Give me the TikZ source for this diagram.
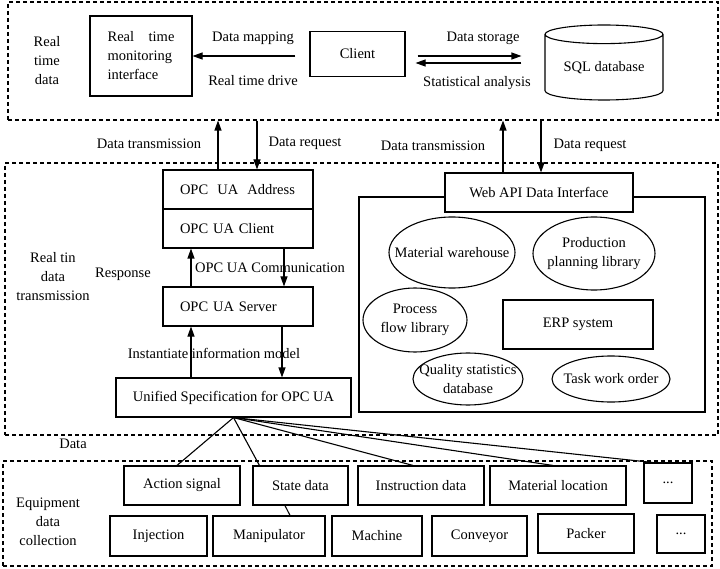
\documentclass[tikz,border=0pt]{standalone}
\usepackage{fontspec}
\setmainfont{Liberation Serif}
\usetikzlibrary{arrows.meta,positioning,shapes.geometric}

\begin{document}
\begin{tikzpicture}[x=1pt,y=-1pt,line width=1.1pt,
  every node/.style={font=\fontsize{14.5}{19}\selectfont,inner sep=0pt},
  lbl/.style={align=center},
  box/.style args={#1x#2}{draw,align=center,minimum width=#1,minimum height=#2},
  oval/.style args={#1x#2}{draw,ellipse,minimum width=#1,minimum height=#2},
  opc/.style={draw,minimum height=39,text width=116,inner xsep=17,align=left},
  region/.style={draw,dash pattern=on 4pt off 3pt},
  arr/.style={-{Triangle[length=10pt,width=7pt]}}]
\useasboundingbox (0,0) rectangle (720,569);

\node[region,minimum width=710,minimum height=118] (rtdata) at (363,61) {};
\node[region,minimum width=713,minimum height=272] (rttrans) at (361.5,299) {};
\node[region,minimum width=709,minimum height=105] (equip) at (357.5,513.5) {};

\node[lbl] at (47,61) {Real\\time\\data};
\node[draw,minimum width=102,minimum height=80,align=left] (mon) at (141,56) {Real\hspace{1em}time\\monitoring\\interface};
\node[box=95x45] (client) at (357.5,54) {Client};
\node[draw,cylinder,shape border rotate=90,aspect=0.23,minimum width=118,minimum height=75,anchor=shape center] (sql) at (604,62.5) {SQL database};

\coordinate (store) at ([yshift=-2pt]client.east);
\coordinate (stat) at ([yshift=-9pt]client.east);
\draw[arr] ([xshift=-14pt]client.west |- mon.east) -- (mon.east);
\draw[arr] ([xshift=12pt]store) -- ([xshift=-23pt]sql.west |- store);
\draw[arr] ([xshift=-23pt]sql.west |- stat) -- ([xshift=10pt]stat);
\node at (253,38) {Data mapping};
\node at (253,81) {Real time drive};
\node at (483,38) {Data storage};
\node at (477,83) {Statistical analysis};

\node at (149,144) {Data transmission};
\node at (305,143) {Data request};
\node at (433,146) {Data transmission};
\node at (590,145) {Data request};

\node[opc] (addr) at (238,189.5) {OPC\hspace{0.63em}UA\hspace{0.63em}Address};
\node[opc] (occl) at (238,228.5) {OPC UA Client};
\node[opc] (server) at (238,306.5) {OPC UA Server};
\node[box=235x39] (uni) at (233.5,397.5) {Unified Specification for OPC UA};

\node[lbl] at (53,277) {Real tin\\data\\transmission};
\node at (123,274) {Response};
\node at (270,268) {OPC UA Communication};
\node at (214,353) {Instantiate information model};

\draw[arr] ([xshift=-20pt]addr.north) -- ([xshift=-20pt]addr.north |- rtdata.south);
\draw[arr] ([xshift=19pt]addr.north |- rtdata.south) -- ([xshift=19pt]addr.north);
\draw[arr] ([xshift=-47pt]server.north) -- ([xshift=-47pt]occl.south);
\draw[arr] ([xshift=46pt]occl.south) -- ([xshift=46pt]server.north);
\draw[arr] ([xshift=-42.5pt]uni.north) -- ([xshift=-47pt]server.south);
\draw[arr] ([xshift=44pt]server.south) -- ([xshift=48.5pt]uni.north);

\node[draw,minimum width=346,minimum height=215] (apps) at (532,304.5) {};
\node[box=188x39,fill=white] (web) at (539,192.5) {Web API Data Interface};
\draw[arr] ([xshift=-36pt]web.north) -- ([xshift=-36pt]web.north |- rtdata.south);
\draw[arr] ([xshift=2pt]web.north |- rtdata.south) -- ([xshift=2pt]web.north);

\node[oval=126x71,label={center:Material warehouse}] (mw) at (452,252.5) {};
\node[oval=122x73,label={[align=center]center:Production\\planning library}] (ppl) at (594,253.5) {};
\node[oval=104x64,label={[align=center]center:Process\\flow library}] (pfl) at (415,320) {};
\node[box=150x49] (erp) at (578,324.5) {ERP system};
\node[oval=110x52,label={[align=center]center:Quality statistics\\database}] (qsd) at (468,379) {};
\node[oval=118x46,label={center:Task work order}] (two) at (611,379) {};

\node at (73,444) {Data};

\node[lbl] at (48,522) {Equipment\\data\\collection};
\node[box=116x39] (act) at (182,485.5) {Action signal};
\node[box=95x39] (state) at (300.5,485.5) {State data};
\node[box=126x39] (instr) at (421,485.5) {Instruction data};
\node[box=136x39] (mat) at (558,485.5) {Material location};
\node[box=48x40] (more1) at (668,483) {...};
\node[box=97x40] (inj) at (158.5,536) {Injection};
\node[box=112x40] (mani) at (269,536) {Manipulator};
\node[box=90x40] (mach) at (377,536) {Machine};
\node[box=95x40] (conv) at (479.5,536) {Conveyor};
\node[box=96x39] (pack) at (586,533.5) {Packer};
\node[box=48x38] (more2) at (681,534) {...};

\draw (uni.south) -- ([xshift=-5pt]act.north);
\draw (uni.south) -- ([xshift=7pt]state.north west);
\draw (uni.south) -- ([xshift=-8pt]instr.north);
\draw (uni.south) -- ([xshift=-5pt]mat.north);
\draw (uni.south) -- ([xshift=9pt]more1.north west);
\draw ([xshift=-15.5pt]state.south) -- ([xshift=21pt]mani.north);
\end{tikzpicture}
\end{document}
